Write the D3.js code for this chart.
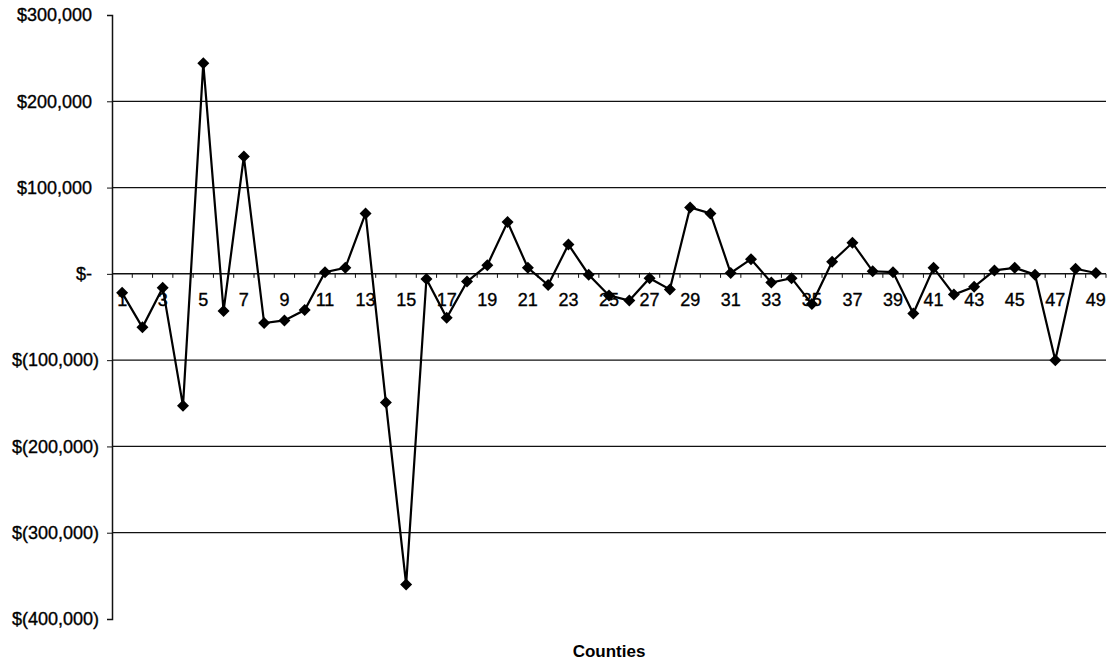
<!DOCTYPE html>
<html>
<head>
<meta charset="utf-8">
<script src="https://cdn.jsdelivr.net/npm/d3@7"></script>
<style>
  html, body { margin: 0; padding: 0; background: #fff; }
  svg { display: block; font-family: "Liberation Sans", Arial, sans-serif; }
  .lbl { stroke: #000; stroke-width: 0.35px; }
</style>
</head>
<body>
<svg id="chart" width="1110" height="661"></svg>
<script>
// County numbers 1..49
const counties = d3.range(1, 50);

// Change in dollars per county
const values = [
  -22000, -62000, -16000, -153000, 244000, -43000, 136000, -57000, -54000, -42000,
  2000, 7000, 70000, -149000, -360000, -6000, -51000, -9000, 10000, 60000,
  7000, -13000, 34000, -1000, -25000, -31000, -5000, -18000, 77000, 70000,
  1000, 17000, -10000, -5000, -35000, 14000, 36000, 3000, 2000, -46000,
  7000, -24000, -15000, 4000, 7000, -1000, -100000, 6000, 1000
];

// Value axis ticks
const yTicks = [300000, 200000, 100000, 0, -100000, -200000, -300000, -400000];
const gridTicks = [200000, 100000, -100000, -200000, -300000];

const xTitle = "Counties";

const svg = d3.select("#chart");
const plot = { left: 112, right: 1106, top: 15, bottom: 619 };

const x = d3.scaleBand().domain(counties).range([plot.left, plot.right]);
const y = d3.scaleLinear().domain([-400000, 300000]).range([plot.bottom, plot.top]);

const num = d3.format(",");
const fmt = d => d === 0 ? "$-" : d < 0 ? "$(" + num(-d) + ")" : "$" + num(d);

// Horizontal gridlines
svg.append("g")
  .selectAll("line")
  .data(gridTicks)
  .join("line")
  .attr("x1", plot.left).attr("x2", plot.right)
  .attr("y1", d => y(d)).attr("y2", d => y(d))
  .attr("stroke", "#111").attr("stroke-width", 1.2);

// Value axis
const yAxis = svg.append("g")
  .attr("transform", `translate(${plot.left},0)`)
  .call(d3.axisLeft(y).tickValues(yTicks).tickFormat(fmt).tickSize(5).tickPadding(6));
yAxis.select(".domain").attr("stroke", "#111").attr("stroke-width", 1.5);
yAxis.selectAll(".tick line").attr("stroke", "#111");
yAxis.selectAll(".tick text")
  .attr("class", "lbl")
  .attr("font-size", 18)
  .attr("fill", "#000")
  .attr("x", d => d < 0 ? -13 : -20);

// Category axis along zero
const xAxisG = svg.append("g")
  .attr("transform", `translate(0,${y(0)})`);
xAxisG.append("line")
  .attr("x1", plot.left).attr("x2", plot.right)
  .attr("stroke", "#111").attr("stroke-width", 1.5);
xAxisG.selectAll("line.tk")
  .data(counties)
  .join("line")
  .attr("class", "tk")
  .attr("x1", d => x(d) + x.bandwidth()).attr("x2", d => x(d) + x.bandwidth())
  .attr("y1", 0).attr("y2", 4)
  .attr("stroke", "#111");
xAxisG.selectAll("text")
  .data(counties.filter(d => d % 2 === 1))
  .join("text")
  .attr("class", "lbl")
  .attr("x", d => x(d) + x.bandwidth() / 2)
  .attr("y", 32)
  .attr("text-anchor", "middle")
  .attr("font-size", 18)
  .text(d => d);

// Series line
const pts = counties.map((c, i) => [x(c) + x.bandwidth() / 2, y(values[i])]);
svg.append("path")
  .attr("d", d3.line()(pts))
  .attr("fill", "none")
  .attr("stroke", "#000")
  .attr("stroke-width", 2.2);

// Diamond markers
svg.append("g")
  .selectAll("path")
  .data(pts)
  .join("path")
  .attr("d", d3.symbol().type(d3.symbolSquare).size(72))
  .attr("transform", d => `translate(${d[0]},${d[1]}) rotate(45)`)
  .attr("fill", "#000");

// Axis title
svg.append("text")
  .attr("x", (plot.left + plot.right) / 2)
  .attr("y", 657)
  .attr("text-anchor", "middle")
  .attr("font-size", 17)
  .attr("font-weight", "bold")
  .text(xTitle);
</script>
</body>
</html>
